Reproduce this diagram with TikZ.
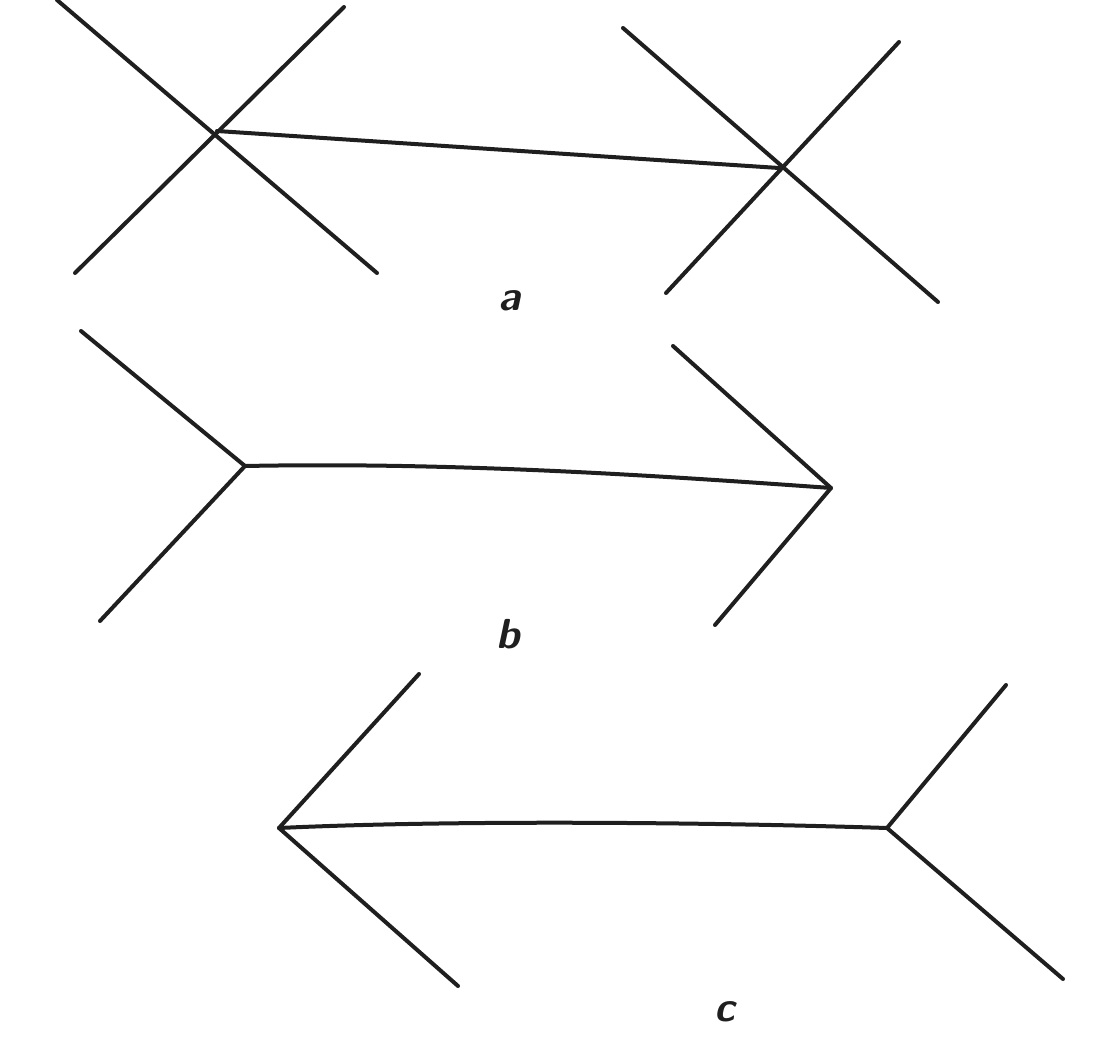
\documentclass[tikz,border=0pt]{standalone}
\begin{document}
\begin{tikzpicture}[x=1pt,y=-1pt,
  stroke/.style={line width=4pt,line cap=round,line join=round,black!88},
  lbl/.style={font=\fontsize{42}{42}\selectfont\sffamily\bfseries\itshape,inner sep=0pt,text=black!88}]
\useasboundingbox (0,0) rectangle (1107,1059);
% figure a
\coordinate (a1) at (217,131);
\coordinate (a2) at (779,168);
\coordinate (a1nw) at (57,0);
\coordinate (a1se) at (377,273);
\coordinate (a1ne) at (344,7);
\coordinate (a1sw) at (75,273);
\coordinate (a2nw) at (623,28);
\coordinate (a2se) at (938,302);
\coordinate (a2ne) at (899,42);
\coordinate (a2sw) at (666,293);
\draw[stroke] (a1nw) -- (a1se);
\draw[stroke] (a1ne) -- (a1sw);
\draw[stroke] (a2nw) -- (a2se);
\draw[stroke] (a2ne) -- (a2sw);
\draw[stroke] (a1) -- (a2);
\node[lbl] (la) at (510,301) {a};
% figure b
\coordinate (b1) at (245,466);
\coordinate (b2) at (831,488);
\coordinate (b1u) at (81,331);
\coordinate (b1d) at (100,621);
\coordinate (b2u) at (673,346);
\coordinate (b2d) at (715,625);
\draw[stroke] (b1u) -- (b1) -- (b1d);
\draw[stroke] (b2u) -- (b2) -- (b2d);
\draw[stroke] (b1) .. controls (450,462) and (650,475) .. (b2);
\node[lbl] (lb) at (508,634) {b};
% figure c
\coordinate (c1) at (279,828);
\coordinate (c2) at (887,828);
\coordinate (c1u) at (419,674);
\coordinate (c1d) at (458,986);
\coordinate (c2u) at (1006,685);
\coordinate (c2d) at (1063,979);
\draw[stroke] (c1u) -- (c1) -- (c1d);
\draw[stroke] (c2u) -- (c2) -- (c2d);
\draw[stroke] (c1) .. controls (450,820) and (700,822) .. (c2);
\node[lbl] (lc) at (725,1012) {c};
\end{tikzpicture}
\end{document}
